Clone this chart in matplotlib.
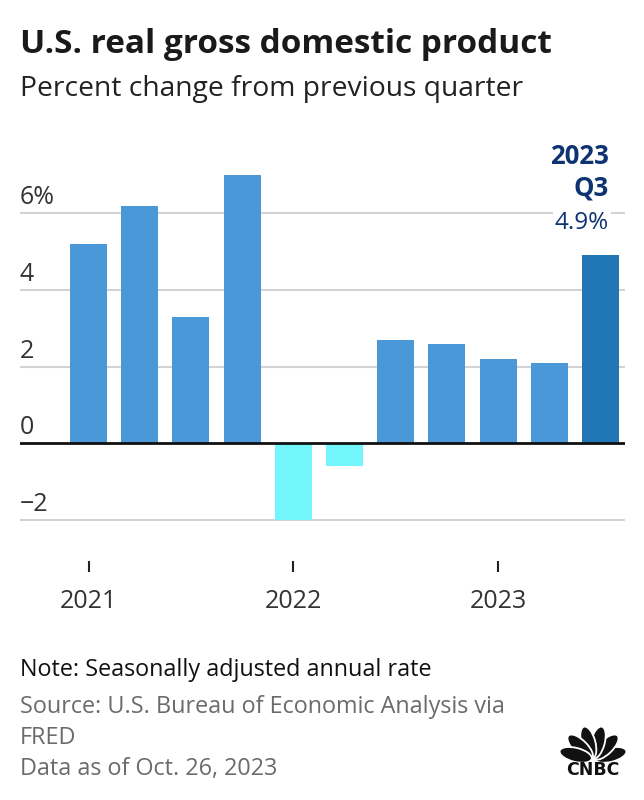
import matplotlib
matplotlib.use("Agg")
import matplotlib.pyplot as plt
import matplotlib.transforms as mtransforms
from matplotlib.patches import Ellipse
import numpy as np

# ---- data ----
quarters = ["2021 Q1", "2021 Q2", "2021 Q3", "2021 Q4",
            "2022 Q1", "2022 Q2", "2022 Q3", "2022 Q4",
            "2023 Q1", "2023 Q2", "2023 Q3"]
gdp_change = [5.2, 6.2, 3.3, 7.0, -2.0, -0.6, 2.7, 2.6, 2.2, 2.1, 4.9]
year_tick_pos = [0, 4, 8]
year_labels = ["2021", "2022", "2023"]
ytick_vals = [-2, 0, 2, 4, 6]
ytick_labels = ["\u22122", "0", "2", "4", "6%"]

W, H = 644, 800
FONT = "Open Sans"
plt.rcParams["font.family"] = [FONT, "DejaVu Sans"]

fig = plt.figure(figsize=(W / 100, H / 100), dpi=100)
fig.patch.set_facecolor("white")

def fx(px):
    return px / W

def fy(py):
    return 1 - py / H

# axes geometry (pixels)
ax_left, ax_right, ax_top, ax_bottom = 20, 625, 130, 572
ax = fig.add_axes([fx(ax_left), fy(ax_bottom), (ax_right - ax_left) / W, (ax_bottom - ax_top) / H])

pitch = 51.2
c0 = 88.5
ppu = 38.35
zero_px = 443.3
ax.set_xlim((ax_left - c0) / pitch, (ax_right - c0) / pitch)
ax.set_ylim((zero_px - ax_bottom) / ppu, (zero_px - ax_top) / ppu)

x = np.arange(len(gdp_change))
colors = []
for i, v in enumerate(gdp_change):
    if i == len(gdp_change) - 1:
        colors.append("#2176b5")
    elif v < 0:
        colors.append("#72f6fc")
    else:
        colors.append("#4a98d7")

for v in ytick_vals:
    if v == 0:
        continue
    ax.axhline(v, color="#d3d3d3", lw=1.5, zorder=0)

ax.bar(x, gdp_change, width=0.72, color=colors, zorder=2)
ax.axhline(0, color="#111111", lw=2, zorder=3)

trans = mtransforms.blended_transform_factory(ax.transAxes, ax.transData)
for v, lab in zip(ytick_vals, ytick_labels):
    ax.annotate(lab, xy=(0, v), xycoords=trans, xytext=(0, 6.5), textcoords="offset points",
                ha="left", va="baseline", fontsize=18, color="#333333")

ax.set_xticks(year_tick_pos)
ax.set_xticklabels(year_labels, fontsize=18, color="#333333")
ax.tick_params(axis="x", direction="in", length=8, width=1.5, color="#222222", pad=12)
ax.tick_params(axis="y", left=False, labelleft=False)
for s in ax.spines.values():
    s.set_visible(False)

last = len(gdp_change) - 1
navy = "#0d3373"
fig.text(fx(609), fy(164), "2023", ha="right", va="baseline", fontsize=18.5,
         fontweight="bold", color=navy)
fig.text(fx(609), fy(196), "Q3", ha="right", va="baseline", fontsize=18.5,
         fontweight="bold", color=navy)
fig.text(fx(609), fy(229), f"{gdp_change[last]}%", ha="right", va="baseline", fontsize=17.5,
         color=navy, bbox=dict(facecolor="white", edgecolor="none", pad=1.5), zorder=5)

fig.text(fx(20), fy(53), "U.S. real gross domestic product", ha="left", va="baseline",
         fontsize=24, fontweight="bold", color="#1a1a1a")
fig.text(fx(20), fy(96), "Percent change from previous quarter", ha="left", va="baseline",
         fontsize=20.3, color="#222222")

fs_note = 16.8
fig.text(fx(20), fy(676), "Note: Seasonally adjusted annual rate", ha="left", va="baseline",
         fontsize=fs_note, color="#111111")
fig.text(fx(20), fy(713), "Source: U.S. Bureau of Economic Analysis via", ha="left", va="baseline",
         fontsize=fs_note, color="#6b6b6b")
fig.text(fx(20), fy(744), "FRED", ha="left", va="baseline", fontsize=fs_note, color="#6b6b6b")
fig.text(fx(20), fy(775), "Data as of Oct. 26, 2023", ha="left", va="baseline",
         fontsize=fs_note, color="#6b6b6b")

# CNBC logo (simple peacock fan)
lax = fig.add_axes([fx(558), fy(778), 70 / W, 56 / H])
lax.set_xlim(-35, 35)
lax.set_ylim(-18, 38)
lax.set_aspect("equal")
lax.axis("off")
for k in range(6):
    ang = 14 + 30.4 * k
    r = 17
    cx, cy = 1.05 * r * np.cos(np.radians(ang)), r * np.sin(np.radians(ang)) + 1
    lax.add_patch(Ellipse((cx, cy), 33, 14, angle=ang, facecolor="#111111",
                          edgecolor="white", lw=1.3))
lax.text(0, -1, "CNBC", ha="center", va="top", fontsize=12.5, fontweight="heavy",
         family="DejaVu Sans", color="#111111")

fig.savefig("out.png", dpi=100, facecolor="white")
